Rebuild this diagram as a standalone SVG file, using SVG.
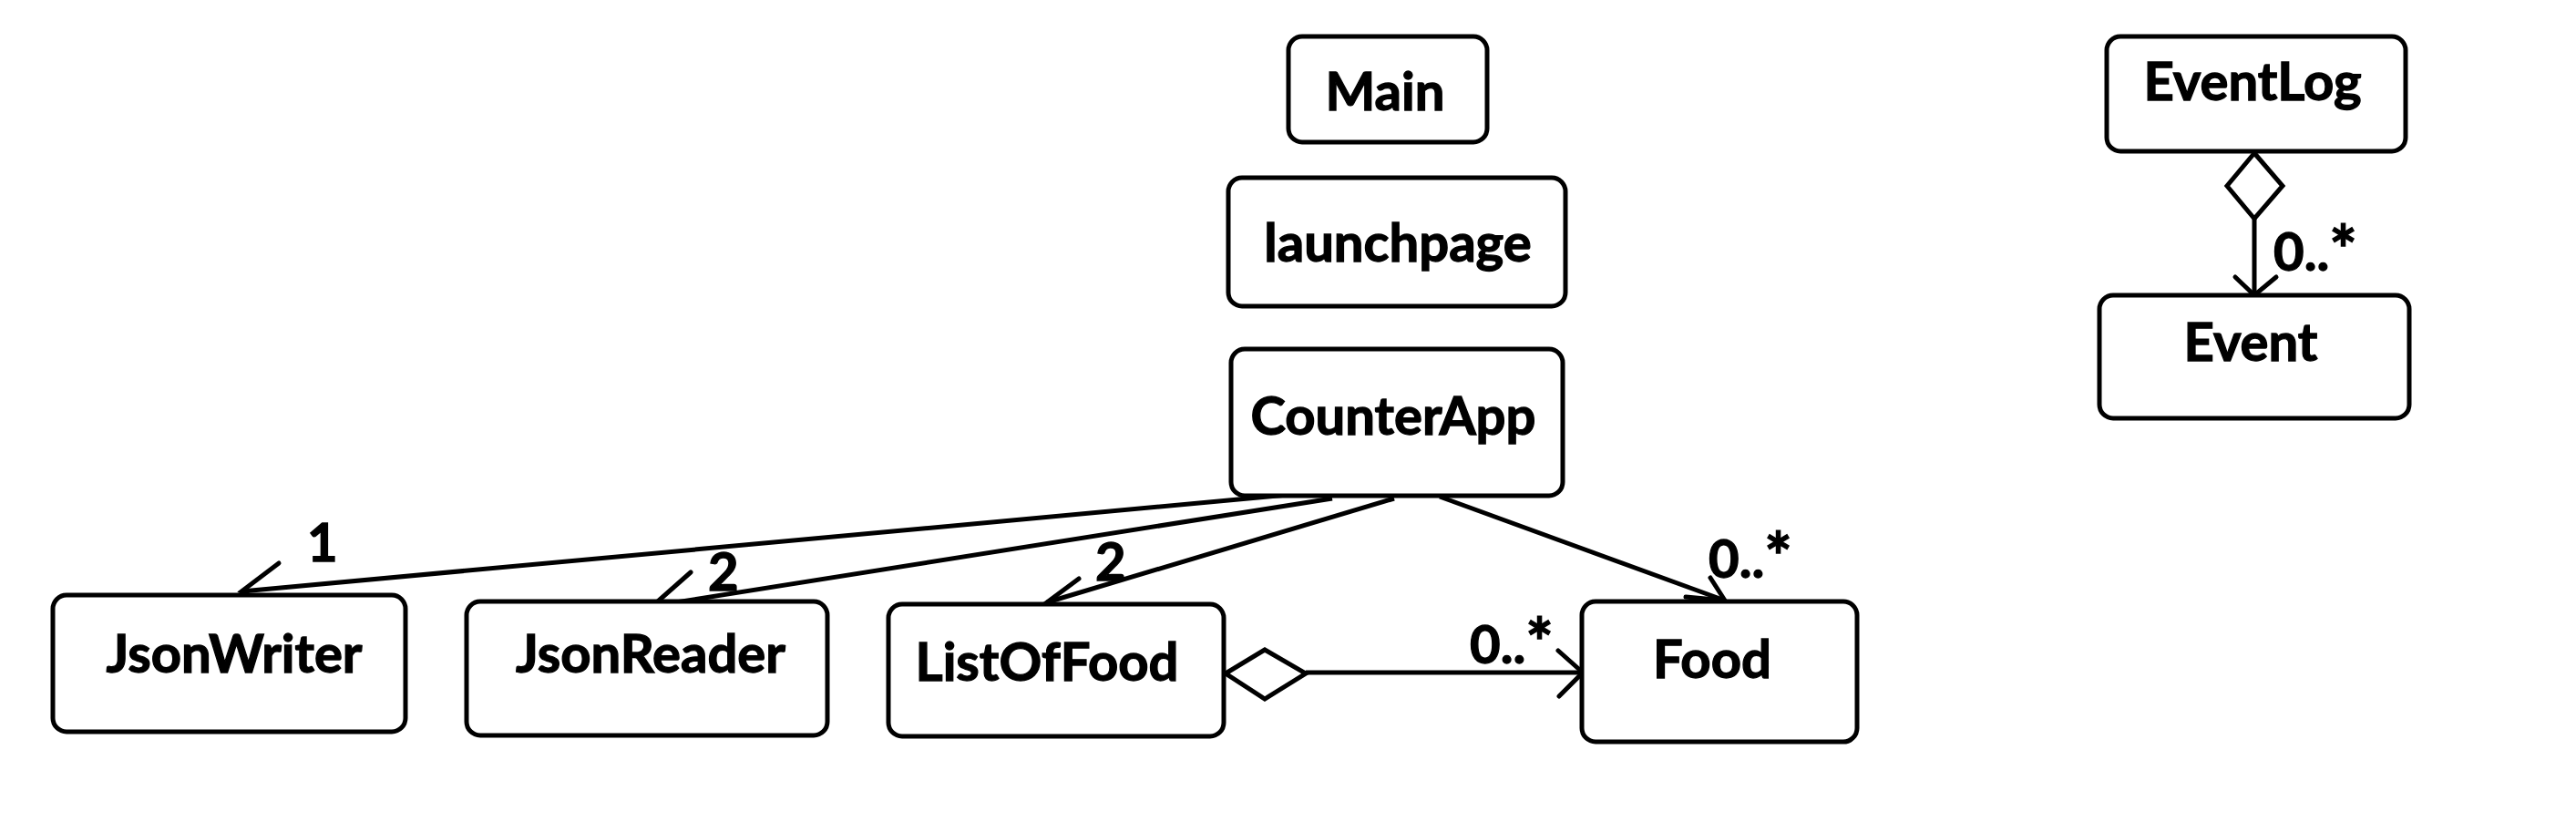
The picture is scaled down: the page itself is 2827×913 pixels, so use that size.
<svg xmlns="http://www.w3.org/2000/svg" width="2827" height="913" viewBox="0 0 2827 913">
<style>
.box{fill:#fff;stroke:#000;stroke-width:5}
.t{font-family:Lato,"Liberation Sans",sans-serif;font-weight:bold;font-size:58px;fill:#000;stroke:#000;stroke-width:1.3;text-anchor:middle}
.lbl{font-family:Lato,"Liberation Sans",sans-serif;font-weight:bold;font-size:58px;fill:#000;stroke:#000;stroke-width:1.3}
.ast{font-size:72px}
.ln{fill:none;stroke:#000;stroke-width:5}
.hd{fill:none;stroke:#000;stroke-width:5;stroke-linecap:round;stroke-linejoin:miter}
.dm{fill:#fff;stroke:#000;stroke-width:5}
</style>
<rect width="2827" height="913" fill="#fff"/>
<g id="connectors">
<line class="ln" x1="1413" y1="543" x2="265" y2="649"/>
<polyline class="hd" points="306,618 265,649 314,674"/>
<line class="ln" x1="1462" y1="547" x2="716" y2="665"/>
<polyline class="hd" points="758,628 716,665 772,680"/>
<line class="ln" x1="1530" y1="547" x2="1149" y2="661"/>
<polyline class="hd" points="1184,635 1149,661 1205,677"/>
<line class="ln" x1="1580" y1="545" x2="1893" y2="659"/>
<polyline class="hd" points="1877,634 1893,659 1850,655"/>
<line class="ln" x1="1433" y1="738" x2="1737" y2="738"/>
<polygon class="dm" points="1345,739 1388,713 1433,739 1388,767"/>
<polyline class="hd" points="1710,714 1737,738 1711,764"/>
<line class="ln" x1="2474" y1="240" x2="2474" y2="324"/>
<polygon class="dm" points="2474,168 2505,204 2474,240 2444,204"/>
<polyline class="hd" points="2453,304 2474,324 2498,304"/>
<text class="lbl" x="337" y="616">1</text>
<text class="lbl" x="777" y="648">2</text>
<text class="lbl" x="1202" y="637">2</text>
<text class="lbl" x="1875" y="634">0..<tspan class="ast" dy="4">*</tspan></text>
<text class="lbl" x="1613" y="728">0..<tspan class="ast" dy="4">*</tspan></text>
<text class="lbl" x="2495" y="297">0..<tspan class="ast" dy="4">*</tspan></text>
</g>
<g id="Main"><rect class="box" x="1414" y="40" width="218" height="116" rx="15"/><text class="t" x="1520" y="121">Main</text></g>
<g id="launchpage"><rect class="box" x="1348" y="195" width="370" height="141" rx="15"/><text class="t" x="1534" y="287">launchpage</text></g>
<g id="CounterApp"><rect class="box" x="1351" y="383" width="364" height="161" rx="15"/><text class="t" x="1529" y="477">CounterApp</text></g>
<g id="EventLog"><rect class="box" x="2312" y="40" width="328" height="126" rx="15"/><text class="t" x="2472" y="110">EventLog</text></g>
<g id="Event"><rect class="box" x="2304" y="324" width="340" height="135" rx="15"/><text class="t" x="2470" y="396">Event</text></g>
<g id="JsonWriter"><rect class="box" x="58" y="653" width="387" height="150" rx="15"/><text class="t" x="257" y="738">JsonWriter</text></g>
<g id="JsonReader"><rect class="box" x="512" y="660" width="396" height="147" rx="15"/><text class="t" x="714" y="738">JsonReader</text></g>
<g id="ListOfFood"><rect class="box" x="975" y="663" width="368" height="145" rx="15"/><text class="t" x="1149" y="747">ListOfFood</text></g>
<g id="Food"><rect class="box" x="1736" y="660" width="302" height="154" rx="15"/><text class="t" x="1879" y="744">Food</text></g>
</svg>
